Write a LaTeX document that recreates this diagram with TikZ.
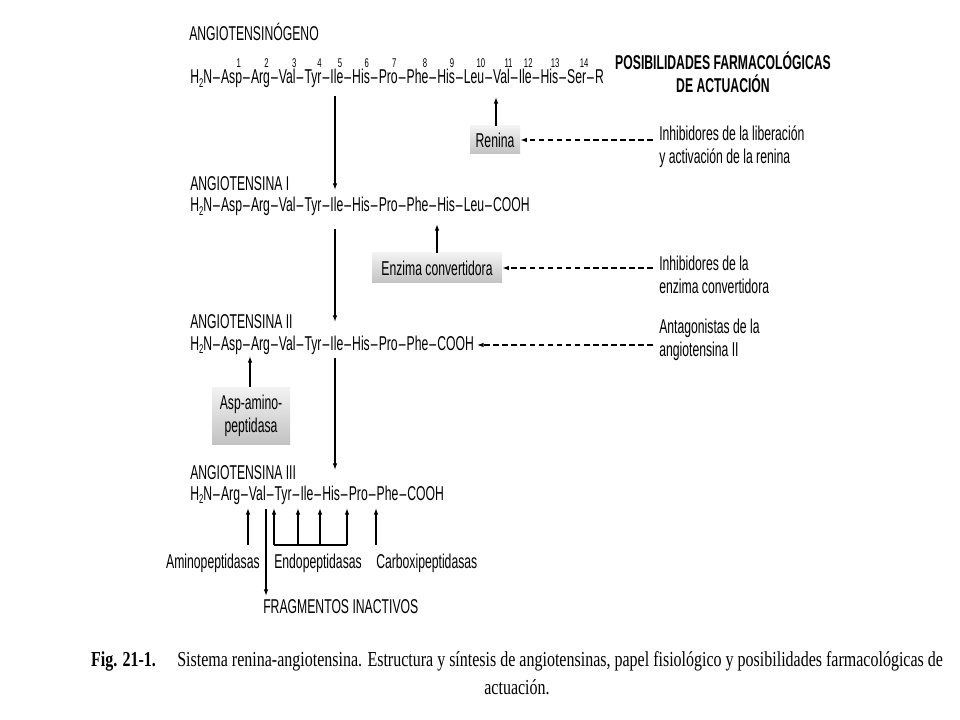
\documentclass[tikz,border=0pt]{standalone}
\usepackage{fontspec}
\setmainfont{Liberation Sans}[FakeStretch=0.61]
\newfontfamily\capfont{Liberation Serif}[FakeStretch=0.75]
\usetikzlibrary{arrows.meta}
\newcommand\sbt[1]{\raisebox{-0.3ex}{\fontsize{9.5}{9.5}\selectfont #1}}
\newcommand\dd{\kern0.8pt–\kern0.8pt}
\newcommand\rs[3]{#2\setbox0\hbox{#3}\rlap{\hbox to\wd0{\hss\raisebox{0.84em}{\fontsize{9.5}{9.5}\selectfont #1}\hss}}#3}
\begin{document}
\begin{tikzpicture}[x=0.75pt,y=-0.75pt,
  txt/.style={inner sep=0pt, anchor=base west, font=\fontsize{15}{17}\selectfont},
  side/.style={inner sep=0pt, anchor=west, align=left, font=\fontsize{15}{17}\selectfont},
  enz/.style={inner sep=2pt, top color=gray!10, bottom color=gray!48, align=center, font=\fontsize{15}{17}\selectfont},
  arr/.style={-{Latex[length=5pt,width=3.4pt]}, line width=0.9pt},
  darr/.style={arr, dash pattern=on 4.2pt off 2.6pt},
  lin/.style={line width=0.9pt}]
\useasboundingbox (0,0) rectangle (960,720);
\fill[white] (0,0) rectangle (960,720);

% titles and sequences
\node[txt] (l0) at (189,41) {ANGIOTENSINÓGENO};
\node[txt] (s0) at (190,84) {H\sbt{2}N\dd\rs{1}{As}{p}\dd\rs{2}{Ar}{g}\dd\rs{3}{Va}{l}\dd\rs{4}{Ty}{r}\dd\rs{5}{Il}{e}\dd\rs{6}{Hi}{s}\dd\rs{7}{Pr}{o}\dd\rs{8}{Ph}{e}\dd\rs{9}{Hi}{s}\dd\rs{10}{Le}{u}\dd\rs{11}{Va}{l}\dd\rs{12}{Il}{e}\dd\rs{13}{Hi}{s}\dd\rs{14}{Se}{r}\dd R};
\node[inner sep=0pt, align=center, font=\fontsize{15}{17.5}\selectfont\bfseries] (pos) at (723,72) {POSIBILIDADES FARMACOLÓGICAS\\DE ACTUACIÓN};

\node[txt] (l1) at (190,191) {ANGIOTENSINA I};
\node[txt] (s1) at (190,212) {H\sbt{2}N\dd Asp\dd Arg\dd Val\dd Tyr\dd Ile\dd His\dd Pro\dd Phe\dd His\dd Leu\dd COOH};

\node[txt] (l2) at (190,329) {ANGIOTENSINA II};
\node[txt] (s2) at (190,350) {H\sbt{2}N\dd Asp\dd Arg\dd Val\dd Tyr\dd Ile\dd His\dd Pro\dd Phe\dd COOH};

\node[txt] (l3) at (190,479) {ANGIOTENSINA III};
\node[txt] (s3) at (190,500) {H\sbt{2}N\dd Arg\dd Val\dd Tyr\dd Ile\dd His\dd Pro\dd Phe\dd COOH};

% enzymes
\node[enz, minimum width=37.5pt, minimum height=21pt] (ren) at (495,140) {Renina};
\node[enz, minimum width=97.5pt, minimum height=22.5pt] (eca) at (437,268) {Enzima convertidora};
\node[enz, minimum width=58.5pt, minimum height=42.75pt] (asp) at (251,416) {Asp-amino-\\peptidasa};

% pharmacology side texts
\node[side] (inh1) at (659,147) {Inhibidores de la liberación\\y activación de la renina};
\node[side] (inh2) at (659,275) {Inhibidores de la\\enzima convertidora};
\node[side] (ant) at (659,340) {Antagonistas de la\\angiotensina II};

% main vertical arrows
\coordinate (m0) at (335,96);
\coordinate (m1) at (335,190);
\coordinate (m2) at (335,229);
\coordinate (m3) at (335,322);
\coordinate (m4) at (335,358);
\coordinate (m5) at (335,470);
\draw[arr] (m0) -- (m1);
\draw[arr] (m2) -- (m3);
\draw[arr] (m4) -- (m5);

% enzyme arrows
\coordinate (rt) at (496,97);
\coordinate (et) at (437,224);
\coordinate (at) at (250,356);
\draw[arr] (ren.north -| rt) -- (rt);
\draw[arr] (eca.north -| et) -- (et);
\draw[arr] (asp.north -| at) -- (at);

% dashed arrows
\coordinate (d1) at (653,140);
\coordinate (d2) at (653,268);
\coordinate (d3) at (653,345);
\draw[darr] (d1) -- (ren.east);
\draw[darr] (d2) -- (eca.east);
\draw[darr] (d3) -- ([xshift=2pt]s2.east |- d3);

% bottom degradation
\node[inner sep=0pt, anchor=base east, font=\fontsize{15}{17}\selectfont] (amp) at (260,568) {Aminopeptidasas};
\node[txt] (enp) at (274,568) {Endopeptidasas};
\node[txt] (cbp) at (376,568) {Carboxipeptidasas};
\node[txt] (frg) at (263,613) {FRAGMENTOS INACTIVOS};

\coordinate (a1) at (248,545); \coordinate (a1t) at (248,508);
\coordinate (e1) at (274,545); \coordinate (e1t) at (274,508);
\coordinate (e2) at (298,545); \coordinate (e2t) at (298,508);
\coordinate (e3) at (320,545); \coordinate (e3t) at (320,508);
\coordinate (e4) at (347,545); \coordinate (e4t) at (347,508);
\coordinate (c1) at (376,545); \coordinate (c1t) at (376,508);
\coordinate (f0) at (266,509); \coordinate (f1) at (266,596);
\draw[arr] (a1) -- (a1t);
\draw[lin] (e1) -- (e4);
\draw[arr] (e1) -- (e1t);
\draw[arr] (e2) -- (e2t);
\draw[arr] (e3) -- (e3t);
\draw[arr] (e4) -- (e4t);
\draw[arr] (c1) -- (c1t);
\draw[arr] (f0) -- (f1);

% caption
\node[inner sep=0pt, align=center, font=\capfont\fontsize{16}{21}\selectfont] (cap) at (517,673) {\textbf{Fig. 21-1.}\quad Sistema renina-angiotensina. Estructura y síntesis de angiotensinas, papel fisiológico y posibilidades farmacológicas de\\actuación.};
\end{tikzpicture}
\end{document}
